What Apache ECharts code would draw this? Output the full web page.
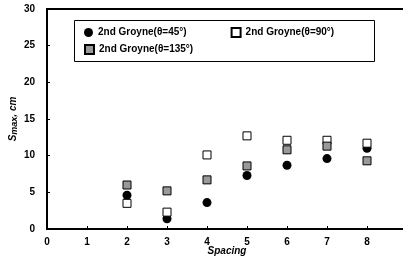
<!DOCTYPE html>
<html>
<head>
<meta charset="utf-8">
<script src="https://cdn.jsdelivr.net/npm/echarts@6/dist/echarts.min.js"></script>
<style>
  html, body { margin: 0; padding: 0; background: #fff; }
  #chart { width: 403px; height: 259px; }
</style>
</head>
<body>
<div id="chart"></div>
<script>
var spacing = [2, 3, 4, 5, 6, 7, 8];
var smax45 = [4.6, 1.4, 3.6, 7.3, 8.7, 9.6, 11.0];
var smax90 = [3.5, 2.3, 10.1, 12.7, 12.1, 12.1, 11.7];
var smax135 = [6.0, 5.2, 6.7, 8.6, 10.8, 11.3, 9.3];
var names = ['2nd Groyne(θ=45°)', '2nd Groyne(θ=90°)', '2nd Groyne(θ=135°)'];

function pairs(ys) {
	return spacing.map(function (x, i) { return [x, ys[i]]; });
}

var font = 'Arial, "Liberation Sans", sans-serif';
var chart = echarts.init(document.getElementById('chart'));

var legendText = { fontFamily: font, fontWeight: 'bold', fontSize: 10, color: '#000' };

chart.setOption({
	animation: false,
	grid: {
		left: 47, top: 9, right: -4, bottom: 30,
		outerBoundsMode: 'none', containLabel: false,
		show: true, borderColor: '#000', borderWidth: 2
	},
	graphic: [{
		type: 'rect',
		shape: { x: 74.5, y: 20.5, width: 300, height: 41 },
		style: { fill: '#fff', stroke: '#000', lineWidth: 1 },
		z: 5
	}],
	legend: [{
		data: [names[0], names[1]],
		left: 79, top: 22, itemGap: 44, itemWidth: 9, itemHeight: 9,
		textStyle: legendText,
		z: 10
	}, {
		data: [names[2]],
		left: 79, top: 39, itemWidth: 9, itemHeight: 9,
		textStyle: legendText,
		z: 10
	}],
	xAxis: {
		type: 'value', min: 0, max: 9, interval: 1,
		name: 'Spacing', nameLocation: 'middle', nameGap: 17, nameMoveOverlap: false,
		nameTextStyle: { fontFamily: font, fontWeight: 'bold', fontStyle: 'italic', fontSize: 10, color: '#000' },
		axisLine: { lineStyle: { color: '#000', width: 2 } },
		axisTick: { inside: true, length: 3, lineStyle: { color: '#000' } },
		axisLabel: { fontFamily: font, fontWeight: 'bold', fontSize: 10, color: '#000', margin: 8 },
		splitLine: { show: false }
	},
	yAxis: {
		type: 'value', min: 0, max: 30, interval: 5,
		name: '{s|S}{sub|max}{s|, cm}', nameLocation: 'middle', nameGap: 28, nameMoveOverlap: false,
		nameTextStyle: {
			rich: {
				s: { fontFamily: font, fontWeight: 'bold', fontStyle: 'italic', fontSize: 10, color: '#000' },
				sub: { fontFamily: font, fontWeight: 'bold', fontStyle: 'italic', fontSize: 9, color: '#000', padding: [3, 0, 0, 0] }
			}
		},
		axisLine: { lineStyle: { color: '#000', width: 2 } },
		axisTick: { inside: true, length: 3, lineStyle: { color: '#000' } },
		axisLabel: { fontFamily: font, fontWeight: 'bold', fontSize: 10, color: '#000', margin: 12 },
		splitLine: { show: false }
	},
	series: [{
		name: names[0], type: 'scatter', data: pairs(smax45),
		symbol: 'circle', symbolSize: 9,
		itemStyle: { color: '#000', opacity: 1 }
	}, {
		name: names[1], type: 'scatter', data: pairs(smax90),
		symbol: 'rect', symbolSize: 8,
		itemStyle: { color: '#fff', borderColor: '#000', borderWidth: 1, opacity: 1 }
	}, {
		name: names[2], type: 'scatter', data: pairs(smax135),
		symbol: 'rect', symbolSize: 8,
		itemStyle: { color: '#999', borderColor: '#000', borderWidth: 1, opacity: 1 }
	}]
});
</script>
</body>
</html>
